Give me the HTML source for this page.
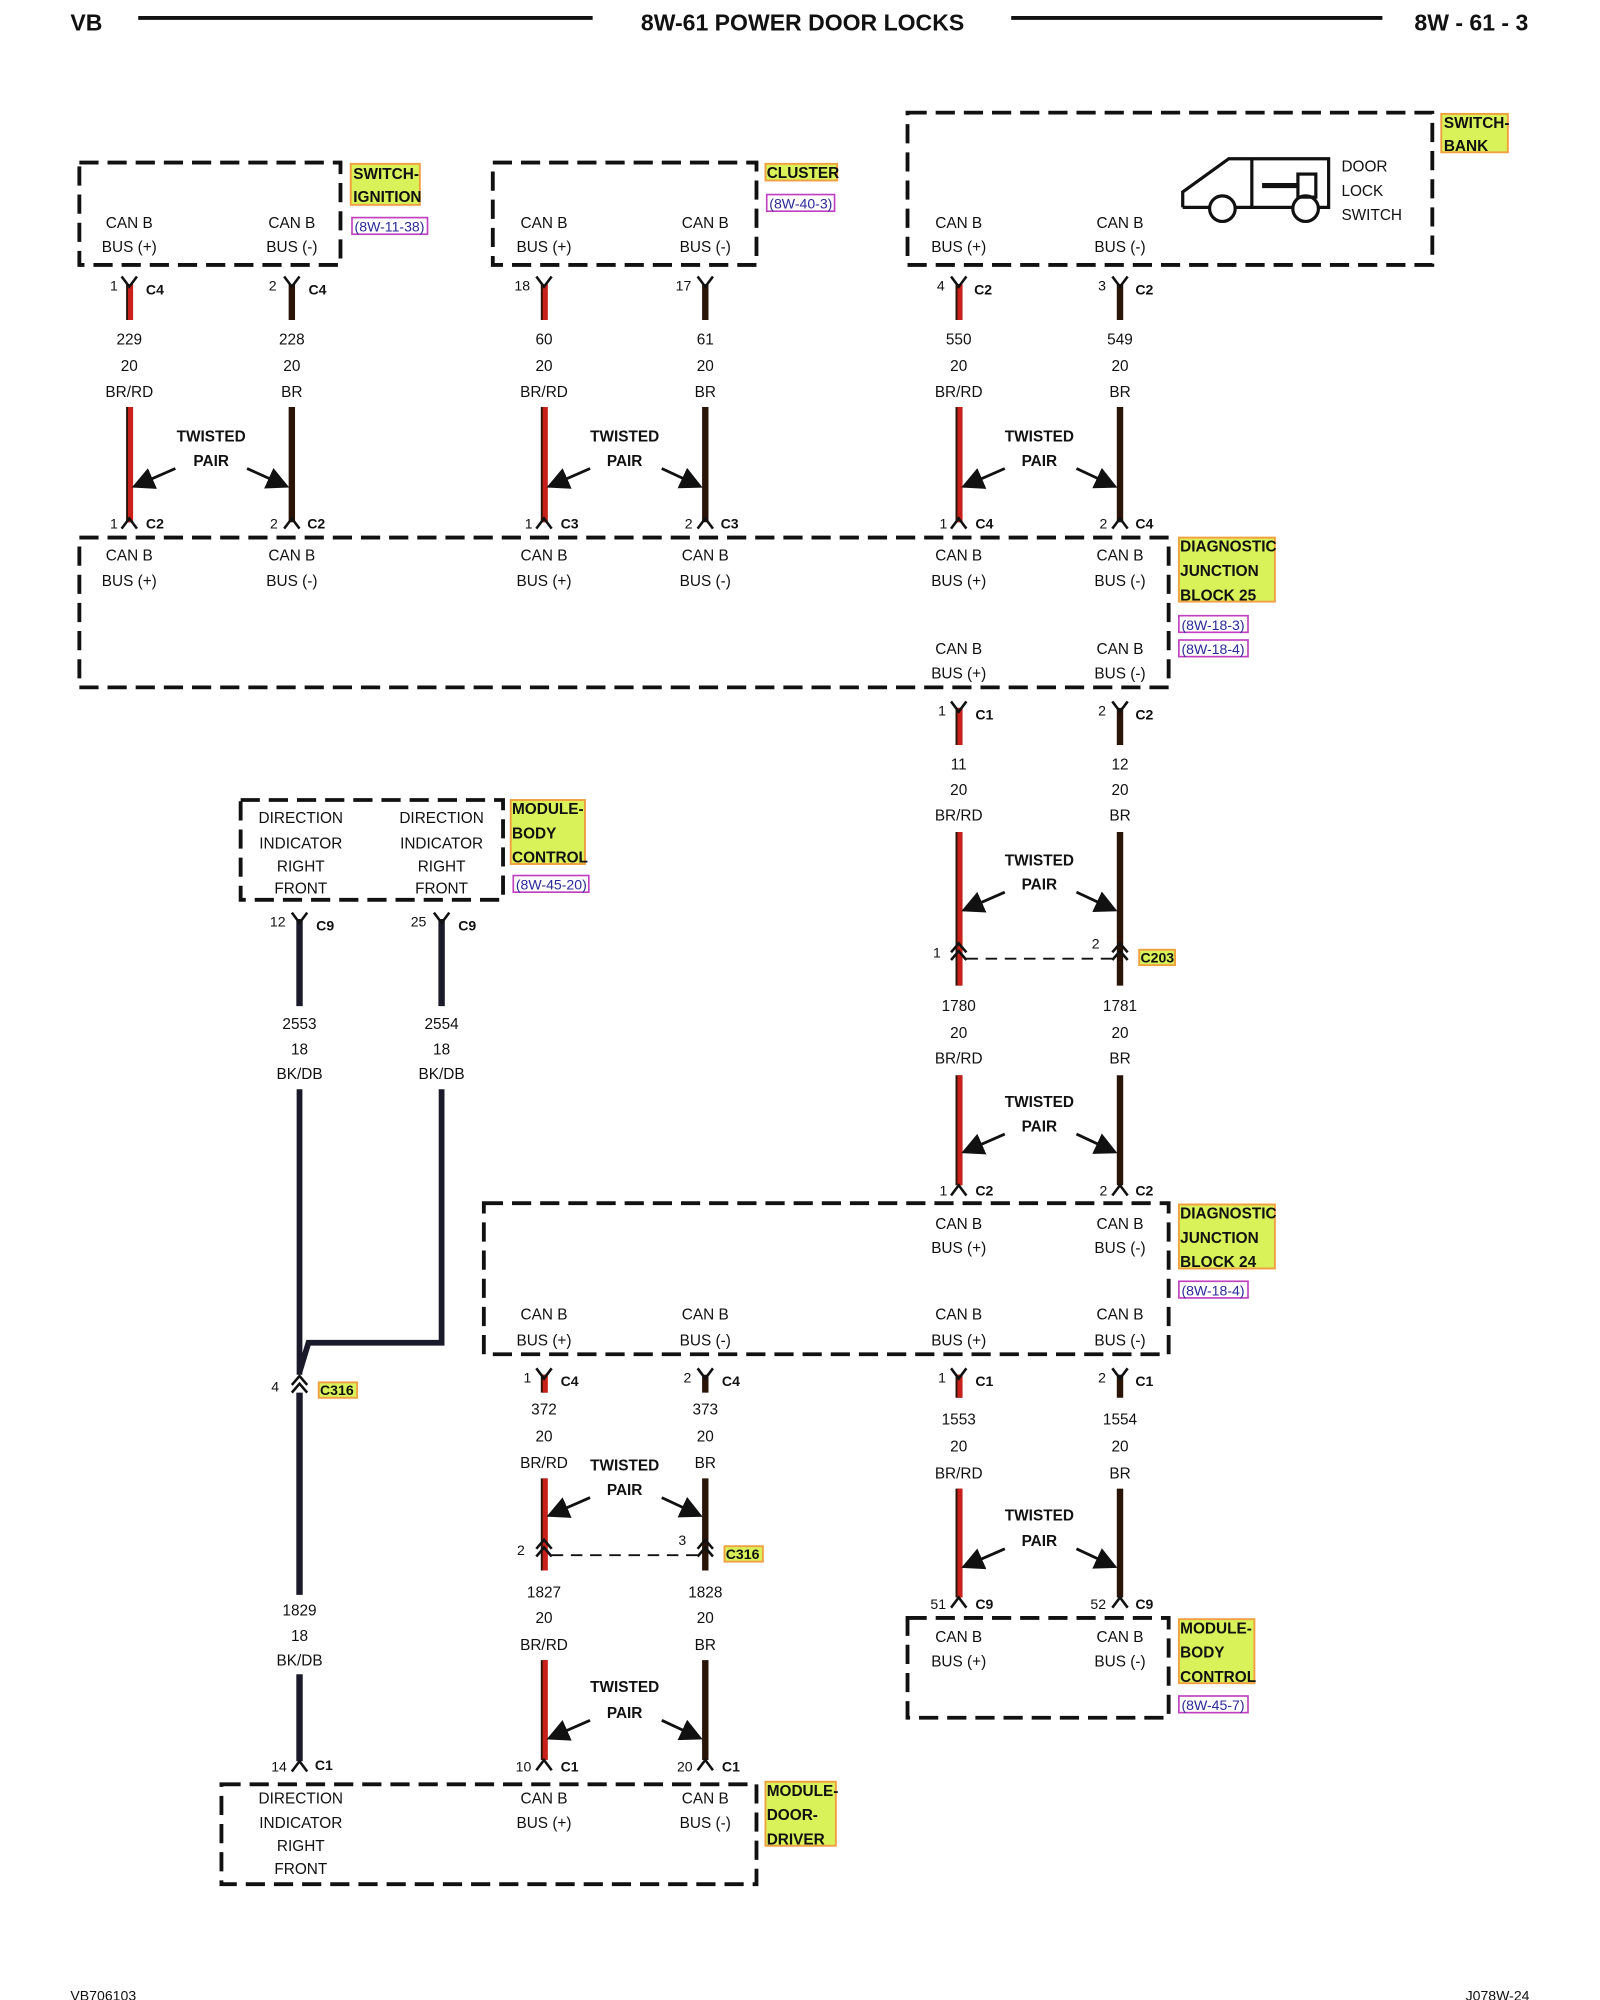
<!DOCTYPE html>
<html><head><meta charset="utf-8"><style>
html,body{margin:0;padding:0;background:#fff}
svg{display:block}
text{font-family:"Liberation Sans",Arial,sans-serif;fill:#111}
.t{font-size:12px;text-anchor:middle}
.b{font-size:12px;font-weight:bold}
.tp{font-size:12px;font-weight:bold;text-anchor:middle}
.bx{fill:none;stroke:#111;stroke-width:3;stroke-dasharray:15 7}
.lab{fill:#d9f25a;stroke:#f0a040;stroke-width:1.5}
.lnk{fill:none;stroke:#c040c0;stroke-width:1.3}
.lt{font-size:11px;fill:#2a2a9a}
.wb{stroke:#2a1408;stroke-width:5}
.wr{stroke:#c8201a;stroke-width:4}
.wk{stroke:#1a1a2a;stroke-width:5}
.c{fill:none;stroke:#111;stroke-width:2}
.ar{stroke:#111;stroke-width:2.2;marker-end:url(#ah)}
</style></head><body>
<svg width="1600" height="2000" viewBox="0 0 1250 1562.5" preserveAspectRatio="none" xmlns="http://www.w3.org/2000/svg">
<defs>
<marker id="ah" markerWidth="8" markerHeight="8" refX="7" refY="4" orient="auto" markerUnits="strokeWidth"><path d="M0,0 L8,4 L0,8 z" fill="#111"/></marker>
</defs>
<!-- header -->
<text x="55" y="24" style="font-size:18px;font-weight:bold">VB</text>
<line x1="108" y1="14" x2="463" y2="14" stroke="#111" stroke-width="3"/>
<text x="627" y="24" style="font-size:18px;font-weight:bold;text-anchor:middle">8W-61 POWER DOOR LOCKS</text>
<line x1="790" y1="14" x2="1080" y2="14" stroke="#111" stroke-width="3"/>
<text x="1105" y="24" style="font-size:18px;font-weight:bold">8W - 61 - 3</text>

<!-- top boxes -->
<rect class="bx" x="62" y="127" width="204" height="80"/>
<rect class="bx" x="385" y="127" width="206" height="80"/>
<rect class="bx" x="709" y="88" width="410" height="119"/>
<g class="t">
<text x="101" y="178">CAN B</text><text x="101" y="197">BUS (+)</text>
<text x="228" y="178">CAN B</text><text x="228" y="197">BUS (-)</text>
<text x="425" y="178">CAN B</text><text x="425" y="197">BUS (+)</text>
<text x="551" y="178">CAN B</text><text x="551" y="197">BUS (-)</text>
<text x="749" y="178">CAN B</text><text x="749" y="197">BUS (+)</text>
<text x="875" y="178">CAN B</text><text x="875" y="197">BUS (-)</text>
</g>
<text x="1048" y="134" class="b" style="font-weight:normal">DOOR</text>
<text x="1048" y="153" class="b" style="font-weight:normal">LOCK</text>
<text x="1048" y="172" class="b" style="font-weight:normal">SWITCH</text>
<!-- door lock icon -->
<g fill="none" stroke="#111" stroke-width="2.5">
<path d="M924,162 L924,150 L960,124 L1038,124 L1038,162 L1030,162 M1010,162 L965,162 M945,162 L924,162"/>
<circle cx="955" cy="163" r="10"/><circle cx="1020" cy="163" r="10"/>
<line x1="978" y1="124" x2="978" y2="162"/>
<rect x="1014" y="136" width="14" height="18"/>
<line x1="986" y1="145" x2="1014" y2="145" stroke-width="4"/>
</g>
<!-- labels -->
<rect class="lab" x="274" y="128" width="54" height="32"/>
<text class="b" x="276" y="140">SWITCH-</text><text class="b" x="276" y="158">IGNITION</text>
<rect class="lnk" x="275" y="170" width="59" height="13"/><text class="lt" x="277" y="181">(8W-11-38)</text>
<rect class="lab" x="598" y="128" width="56" height="13"/><text class="b" x="599" y="139">CLUSTER</text>
<rect class="lnk" x="599" y="152" width="53" height="13"/><text class="lt" x="601" y="163">(8W-40-3)</text>
<rect class="lab" x="1126" y="89" width="52" height="30"/>
<text class="b" x="1128" y="100">SWITCH-</text><text class="b" x="1128" y="118">BANK</text>

<!-- top wire pairs -->
<g>
<line class="wb" x1="101" y1="222" x2="101" y2="250"/><line class="wr" x1="102" y1="222" x2="102" y2="250"/>
<line class="wb" x1="101" y1="318" x2="101" y2="408"/><line class="wr" x1="102" y1="318" x2="102" y2="408"/>
<line class="wb" x1="228" y1="222" x2="228" y2="250"/><line class="wb" x1="228" y1="318" x2="228" y2="408"/>
<line class="wb" x1="425" y1="222" x2="425" y2="250"/><line class="wr" x1="426" y1="222" x2="426" y2="250"/>
<line class="wb" x1="425" y1="318" x2="425" y2="408"/><line class="wr" x1="426" y1="318" x2="426" y2="408"/>
<line class="wb" x1="551" y1="222" x2="551" y2="250"/><line class="wb" x1="551" y1="318" x2="551" y2="408"/>
<line class="wb" x1="749" y1="222" x2="749" y2="250"/><line class="wr" x1="750" y1="222" x2="750" y2="250"/>
<line class="wb" x1="749" y1="318" x2="749" y2="408"/><line class="wr" x1="750" y1="318" x2="750" y2="408"/>
<line class="wb" x1="875" y1="222" x2="875" y2="250"/><line class="wb" x1="875" y1="318" x2="875" y2="408"/>
</g>
<g class="c">
<path d="M95,216 L101,224 L107,216"/><path d="M222,216 L228,224 L234,216"/>
<path d="M419,216 L425,224 L431,216"/><path d="M545,216 L551,224 L557,216"/>
<path d="M743,216 L749,224 L755,216"/><path d="M869,216 L875,224 L881,216"/>
<path d="M95,413 L101,405 L107,413"/><path d="M222,413 L228,405 L234,413"/>
<path d="M419,413 L425,405 L431,413"/><path d="M545,413 L551,405 L557,413"/>
<path d="M743,413 L749,405 L755,413"/><path d="M869,413 L875,405 L881,413"/>
</g>
<g class="t" style="font-size:11px">
<text x="89" y="227">1</text><text x="213" y="227">2</text><text x="408" y="227">18</text><text x="534" y="227">17</text><text x="735" y="227">4</text><text x="861" y="227">3</text>
<text x="89" y="413">1</text><text x="214" y="413">2</text><text x="413" y="413">1</text><text x="538" y="413">2</text><text x="737" y="413">1</text><text x="862" y="413">2</text>
</g>
<g class="b" style="font-size:11px">
<text x="114" y="230">C4</text><text x="241" y="230">C4</text><text x="761" y="230">C2</text><text x="887" y="230">C2</text>
<text x="114" y="413">C2</text><text x="240" y="413">C2</text><text x="438" y="413">C3</text><text x="563" y="413">C3</text><text x="762" y="413">C4</text><text x="887" y="413">C4</text>
</g>
<g class="t">
<text x="101" y="269">229</text><text x="101" y="290">20</text><text x="101" y="310">BR/RD</text>
<text x="228" y="269">228</text><text x="228" y="290">20</text><text x="228" y="310">BR</text>
<text x="425" y="269">60</text><text x="425" y="290">20</text><text x="425" y="310">BR/RD</text>
<text x="551" y="269">61</text><text x="551" y="290">20</text><text x="551" y="310">BR</text>
<text x="749" y="269">550</text><text x="749" y="290">20</text><text x="749" y="310">BR/RD</text>
<text x="875" y="269">549</text><text x="875" y="290">20</text><text x="875" y="310">BR</text>
</g>
<g class="tp">
<text x="165" y="345">TWISTED</text><text x="165" y="364">PAIR</text>
<text x="488" y="345">TWISTED</text><text x="488" y="364">PAIR</text>
<text x="812" y="345">TWISTED</text><text x="812" y="364">PAIR</text>
</g>
<g>
<line class="ar" x1="137" y1="366" x2="105" y2="380"/><line class="ar" x1="193" y1="366" x2="224" y2="380"/>
<line class="ar" x1="461" y1="366" x2="429" y2="380"/><line class="ar" x1="517" y1="366" x2="547" y2="380"/>
<line class="ar" x1="785" y1="366" x2="753" y2="380"/><line class="ar" x1="841" y1="366" x2="871" y2="380"/>
</g>

<!-- DJB25 -->
<rect class="bx" x="62" y="420" width="851" height="117"/>
<g class="t">
<text x="101" y="438">CAN B</text><text x="101" y="458">BUS (+)</text>
<text x="228" y="438">CAN B</text><text x="228" y="458">BUS (-)</text>
<text x="425" y="438">CAN B</text><text x="425" y="458">BUS (+)</text>
<text x="551" y="438">CAN B</text><text x="551" y="458">BUS (-)</text>
<text x="749" y="438">CAN B</text><text x="749" y="458">BUS (+)</text>
<text x="875" y="438">CAN B</text><text x="875" y="458">BUS (-)</text>
<text x="749" y="511">CAN B</text><text x="749" y="530">BUS (+)</text>
<text x="875" y="511">CAN B</text><text x="875" y="530">BUS (-)</text>
</g>
<rect class="lab" x="921" y="420" width="75" height="50"/>
<text class="b" x="922" y="431">DIAGNOSTIC</text><text class="b" x="922" y="450">JUNCTION</text><text class="b" x="922" y="469">BLOCK 25</text>
<rect class="lnk" x="921" y="481" width="54" height="13"/><text class="lt" x="923" y="492">(8W-18-3)</text>
<rect class="lnk" x="921" y="500" width="54" height="13"/><text class="lt" x="923" y="511">(8W-18-4)</text>

<!-- middle right chain -->
<line class="wb" x1="749" y1="553" x2="749" y2="582"/><line class="wr" x1="750" y1="553" x2="750" y2="582"/>
<line class="wb" x1="875" y1="553" x2="875" y2="582"/>
<line class="wb" x1="749" y1="650" x2="749" y2="770"/><line class="wr" x1="750" y1="650" x2="750" y2="770"/>
<line class="wb" x1="875" y1="650" x2="875" y2="770"/>
<line class="wb" x1="749" y1="840" x2="749" y2="926"/><line class="wr" x1="750" y1="840" x2="750" y2="926"/>
<line class="wb" x1="875" y1="840" x2="875" y2="926"/>
<g class="c">
<path d="M743,548 L749,556 L755,548"/><path d="M869,548 L875,556 L881,548"/>
<path d="M743,744 L749,737 L755,744"/><path d="M743,750 L749,743 L755,750"/>
<path d="M869,744 L875,737 L881,744"/><path d="M869,750 L875,743 L881,750"/>
<path d="M743,934 L749,926 L755,934"/><path d="M869,934 L875,926 L881,934"/>
</g>
<line x1="755" y1="749" x2="869" y2="749" stroke="#111" stroke-width="1.5" stroke-dasharray="9 6"/>
<g class="t" style="font-size:11px"><text x="736" y="559">1</text><text x="861" y="559">2</text><text x="732" y="748">1</text><text x="856" y="741">2</text><text x="737" y="934">1</text><text x="862" y="934">2</text></g>
<g class="b" style="font-size:11px"><text x="762" y="562">C1</text><text x="887" y="562">C2</text><text x="762" y="934">C2</text><text x="887" y="934">C2</text></g>
<rect class="lab" x="890" y="742" width="28" height="12"/><text class="b" x="891" y="752" style="font-size:11px">C203</text>
<g class="t">
<text x="749" y="601">11</text><text x="749" y="621">20</text><text x="749" y="641">BR/RD</text>
<text x="875" y="601">12</text><text x="875" y="621">20</text><text x="875" y="641">BR</text>
<text x="749" y="790">1780</text><text x="749" y="811">20</text><text x="749" y="831">BR/RD</text>
<text x="875" y="790">1781</text><text x="875" y="811">20</text><text x="875" y="831">BR</text>
</g>
<g class="tp"><text x="812" y="676">TWISTED</text><text x="812" y="695">PAIR</text><text x="812" y="865">TWISTED</text><text x="812" y="884">PAIR</text></g>
<line class="ar" x1="785" y1="697" x2="753" y2="711"/><line class="ar" x1="841" y1="697" x2="871" y2="711"/>
<line class="ar" x1="785" y1="886" x2="753" y2="900"/><line class="ar" x1="841" y1="886" x2="871" y2="900"/>

<!-- DJB24 -->
<rect class="bx" x="378" y="940" width="535" height="118"/>
<g class="t">
<text x="749" y="960">CAN B</text><text x="749" y="979">BUS (+)</text>
<text x="875" y="960">CAN B</text><text x="875" y="979">BUS (-)</text>
<text x="425" y="1031">CAN B</text><text x="425" y="1051">BUS (+)</text>
<text x="551" y="1031">CAN B</text><text x="551" y="1051">BUS (-)</text>
<text x="749" y="1031">CAN B</text><text x="749" y="1051">BUS (+)</text>
<text x="875" y="1031">CAN B</text><text x="875" y="1051">BUS (-)</text>
</g>
<rect class="lab" x="921" y="941" width="75" height="50"/>
<text class="b" x="922" y="952">DIAGNOSTIC</text><text class="b" x="922" y="971">JUNCTION</text><text class="b" x="922" y="990">BLOCK 24</text>
<rect class="lnk" x="921" y="1001" width="54" height="13"/><text class="lt" x="923" y="1012">(8W-18-4)</text>

<!-- bottom right pair -->
<line class="wb" x1="749" y1="1074" x2="749" y2="1092"/><line class="wr" x1="750" y1="1074" x2="750" y2="1092"/>
<line class="wb" x1="875" y1="1074" x2="875" y2="1092"/>
<line class="wb" x1="749" y1="1163" x2="749" y2="1248"/><line class="wr" x1="750" y1="1163" x2="750" y2="1248"/>
<line class="wb" x1="875" y1="1163" x2="875" y2="1248"/>
<g class="c"><path d="M743,1069 L749,1077 L755,1069"/><path d="M869,1069 L875,1077 L881,1069"/>
<path d="M743,1256 L749,1248 L755,1256"/><path d="M869,1256 L875,1248 L881,1256"/></g>
<g class="t" style="font-size:11px"><text x="736" y="1080">1</text><text x="861" y="1080">2</text><text x="733" y="1257">51</text><text x="858" y="1257">52</text></g>
<g class="b" style="font-size:11px"><text x="762" y="1083">C1</text><text x="887" y="1083">C1</text><text x="762" y="1257">C9</text><text x="887" y="1257">C9</text></g>
<g class="t">
<text x="749" y="1113">1553</text><text x="749" y="1134">20</text><text x="749" y="1155">BR/RD</text>
<text x="875" y="1113">1554</text><text x="875" y="1134">20</text><text x="875" y="1155">BR</text>
</g>
<g class="tp"><text x="812" y="1188">TWISTED</text><text x="812" y="1208">PAIR</text></g>
<line class="ar" x1="785" y1="1210" x2="753" y2="1224"/><line class="ar" x1="841" y1="1210" x2="871" y2="1224"/>

<!-- module body control bottom -->
<rect class="bx" x="709" y="1264" width="204" height="78"/>
<g class="t"><text x="749" y="1283">CAN B</text><text x="749" y="1302">BUS (+)</text><text x="875" y="1283">CAN B</text><text x="875" y="1302">BUS (-)</text></g>
<rect class="lab" x="921" y="1265" width="59" height="50"/>
<text class="b" x="922" y="1276">MODULE-</text><text class="b" x="922" y="1295">BODY</text><text class="b" x="922" y="1314">CONTROL</text>
<rect class="lnk" x="921" y="1325" width="54" height="13"/><text class="lt" x="923" y="1336">(8W-45-7)</text>

<!-- bottom left pair (425/551) -->
<line class="wb" x1="425" y1="1074" x2="425" y2="1088"/><line class="wr" x1="426" y1="1074" x2="426" y2="1088"/>
<line class="wb" x1="551" y1="1074" x2="551" y2="1088"/>
<line class="wb" x1="425" y1="1155" x2="425" y2="1227"/><line class="wr" x1="426" y1="1155" x2="426" y2="1227"/>
<line class="wb" x1="551" y1="1155" x2="551" y2="1227"/>
<line class="wb" x1="425" y1="1297" x2="425" y2="1375"/><line class="wr" x1="426" y1="1297" x2="426" y2="1375"/>
<line class="wb" x1="551" y1="1297" x2="551" y2="1375"/>
<g class="c">
<path d="M419,1069 L425,1077 L431,1069"/><path d="M545,1069 L551,1077 L557,1069"/>
<path d="M419,1210 L425,1203 L431,1210"/><path d="M419,1216 L425,1209 L431,1216"/>
<path d="M545,1210 L551,1203 L557,1210"/><path d="M545,1216 L551,1209 L557,1216"/>
<path d="M419,1383 L425,1375 L431,1383"/><path d="M545,1383 L551,1375 L557,1383"/>
</g>
<line x1="431" y1="1215" x2="545" y2="1215" stroke="#111" stroke-width="1.5" stroke-dasharray="9 6"/>
<g class="t" style="font-size:11px"><text x="412" y="1080">1</text><text x="537" y="1080">2</text><text x="407" y="1215">2</text><text x="533" y="1207">3</text><text x="409" y="1384">10</text><text x="535" y="1384">20</text></g>
<g class="b" style="font-size:11px"><text x="438" y="1083">C4</text><text x="564" y="1083">C4</text><text x="438" y="1384">C1</text><text x="564" y="1384">C1</text></g>
<rect class="lab" x="566" y="1208" width="30" height="12"/><text class="b" x="567" y="1218" style="font-size:11px">C316</text>
<g class="t">
<text x="425" y="1105">372</text><text x="425" y="1126">20</text><text x="425" y="1147">BR/RD</text>
<text x="551" y="1105">373</text><text x="551" y="1126">20</text><text x="551" y="1147">BR</text>
<text x="425" y="1248">1827</text><text x="425" y="1268">20</text><text x="425" y="1289">BR/RD</text>
<text x="551" y="1248">1828</text><text x="551" y="1268">20</text><text x="551" y="1289">BR</text>
</g>
<g class="tp"><text x="488" y="1149">TWISTED</text><text x="488" y="1168">PAIR</text><text x="488" y="1322">TWISTED</text><text x="488" y="1342">PAIR</text></g>
<line class="ar" x1="461" y1="1170" x2="429" y2="1184"/><line class="ar" x1="517" y1="1170" x2="547" y2="1184"/>
<line class="ar" x1="461" y1="1344" x2="429" y2="1358"/><line class="ar" x1="517" y1="1344" x2="547" y2="1358"/>

<!-- module body control top -->
<rect class="bx" x="188" y="625" width="205" height="78"/>
<g class="t">
<text x="235" y="643">DIRECTION</text><text x="235" y="663">INDICATOR</text><text x="235" y="681">RIGHT</text><text x="235" y="698">FRONT</text>
<text x="345" y="643">DIRECTION</text><text x="345" y="663">INDICATOR</text><text x="345" y="681">RIGHT</text><text x="345" y="698">FRONT</text>
</g>
<rect class="lab" x="399" y="625" width="58" height="50"/>
<text class="b" x="400" y="636">MODULE-</text><text class="b" x="400" y="655">BODY</text><text class="b" x="400" y="674">CONTROL</text>
<rect class="lnk" x="401" y="684" width="59" height="13"/><text class="lt" x="403" y="695">(8W-45-20)</text>

<!-- BK/DB wires -->
<line class="wk" x1="234" y1="718" x2="234" y2="786"/><line class="wk" x1="345" y1="718" x2="345" y2="786"/>
<path d="M234,851 L234,1074 M345,851 L345,1049 L241,1049 L234,1072" fill="none" stroke="#1a1a2a" stroke-width="4.5"/>
<line class="wk" x1="234" y1="1088" x2="234" y2="1246"/>
<line class="wk" x1="234" y1="1308" x2="234" y2="1376"/>
<g class="c">
<path d="M228,713 L234,721 L240,713"/><path d="M339,713 L345,721 L351,713"/>
<path d="M228,1082 L234,1075 L240,1082"/><path d="M228,1088 L234,1081 L240,1088"/>
<path d="M228,1384 L234,1376 L240,1384"/>
</g>
<g class="t" style="font-size:11px"><text x="217" y="724">12</text><text x="327" y="724">25</text><text x="215" y="1087">4</text><text x="218" y="1384">14</text></g>
<g class="b" style="font-size:11px"><text x="247" y="727">C9</text><text x="358" y="727">C9</text><text x="246" y="1383">C1</text></g>
<rect class="lab" x="249" y="1080" width="30" height="12"/><text class="b" x="250" y="1090" style="font-size:11px">C316</text>
<g class="t">
<text x="234" y="804">2553</text><text x="234" y="824">18</text><text x="234" y="843">BK/DB</text>
<text x="345" y="804">2554</text><text x="345" y="824">18</text><text x="345" y="843">BK/DB</text>
<text x="234" y="1262">1829</text><text x="234" y="1282">18</text><text x="234" y="1301">BK/DB</text>
</g>

<!-- module door driver -->
<rect class="bx" x="173" y="1394" width="418" height="78"/>
<g class="t">
<text x="235" y="1409">DIRECTION</text><text x="235" y="1428">INDICATOR</text><text x="235" y="1446">RIGHT</text><text x="235" y="1464">FRONT</text>
<text x="425" y="1409">CAN B</text><text x="425" y="1428">BUS (+)</text>
<text x="551" y="1409">CAN B</text><text x="551" y="1428">BUS (-)</text>
</g>
<rect class="lab" x="598" y="1392" width="55" height="50"/>
<text class="b" x="599" y="1403">MODULE-</text><text class="b" x="599" y="1422">DOOR-</text><text class="b" x="599" y="1441">DRIVER</text>

<!-- footer -->
<text x="55" y="1563" style="font-size:11px">VB706103</text>
<text x="1145" y="1563" style="font-size:11px">J078W-24</text>
</svg>
</body></html>
